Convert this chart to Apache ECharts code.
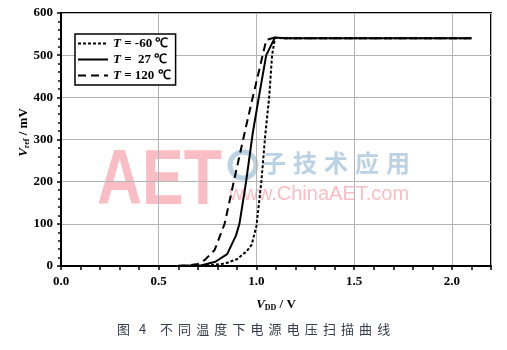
<!DOCTYPE html>
<html><head><meta charset="utf-8">
<script src="https://cdn.jsdelivr.net/npm/echarts@6/dist/echarts.min.js"></script>
<style>html,body{margin:0;padding:0;background:#fff}#c{width:507px;height:350px}</style>
</head><body><div id="c"></div>
<script>
// Temperature labels (legend)
const tempLabels = ['-60', ' 27', '120'];
// V_DD (V) and V_ref (mV) for each temperature
const vddM60 = [0, 0.6, 0.77, 0.84, 0.9, 0.95, 0.975, 1.0, 1.025, 1.045, 1.065, 1.08, 1.095, 1.15, 2.1];
const vrefM60 = [0, 0, 2, 6, 16, 35, 50, 95, 200, 310, 400, 500, 541, 540, 540];
const vdd27 = [0, 0.6, 0.72, 0.79, 0.85, 0.895, 0.913, 0.947, 0.981, 1.012, 1.05, 1.095, 1.15, 2.1];
const vref27 = [0, 0, 2, 10, 28, 72, 100, 200, 315, 400, 500, 542, 540, 540];
const vdd120 = [0, 0.55, 0.65, 0.7, 0.735, 0.786, 0.837, 0.884, 0.939, 0.981, 1.032, 1.05, 1.095, 1.15, 2.1];
const vref120 = [0, 0, 1, 5, 14, 38, 100, 200, 315, 400, 500, 536, 542, 540, 540];
// Axis tick labels
const xTickLabels = ['0.0', '0.5', '1.0', '1.5', '2.0'];
const yTickLabels = ['0', '100', '200', '300', '400', '500', '600'];
// Caption
const captionHead = ['图', '4'];
const captionBody = '不同温度下电源电压扫描曲线';

const pair = (xs, ys) => xs.map((x, i) => [x, ys[i]]);
const serif = 'Liberation Serif';
const lblStyle = {fontFamily: serif, fontWeight: 'bold', fontSize: 13, color: '#000'};
const nameRich = {
  i: {fontFamily: serif, fontStyle: 'italic', fontWeight: 'bold', fontSize: 13, color: '#000'},
  s: {fontFamily: serif, fontWeight: 'bold', fontSize: 8, color: '#000', padding: [7, 0, 0, 0]},
  n: {fontFamily: serif, fontWeight: 'bold', fontSize: 13, color: '#000'}
};

const chart = echarts.init(document.getElementById('c'), null, {renderer: 'canvas'});

const wmChars = ['子', '技', '术', '应', '用'];
const capFont = '13px "Noto Sans CJK SC"';
const capColor = '#363c4a';
const graphics = [
  {type: 'text', z: 0, left: 97, top: 143, style: {text: 'AET', font: 'bold 78px "Liberation Sans"', fill: '#f8b6bc', opacity: 0.9}, scaleX: 0.8},
  {type: 'circle', z: 0, shape: {cx: 243, cy: 165, r: 13}, style: {stroke: '#b4cde2', lineWidth: 5, fill: 'none', opacity: 0.9}},
  {type: 'text', z: 0, left: 229, top: 184, style: {text: 'www.ChinaAET.com', font: '20px "Liberation Sans"', fill: '#f8b6bc', opacity: 0.9}}
];
wmChars.forEach((ch, i) => graphics.push({type: 'text', z: 0, left: 262 + i * 31, top: 151, style: {text: ch, font: 'bold 24px "Noto Sans CJK SC"', fill: '#b4cde2', opacity: 0.9}}));
graphics.push({type: 'text', left: 117, top: 323, style: {text: captionHead[0], font: capFont, fill: capColor}});
graphics.push({type: 'text', left: 139, top: 323, style: {text: captionHead[1], font: capFont, fill: capColor}});
captionBody.split('').forEach((ch, i) => graphics.push({type: 'text', left: 160 + i * 18.1, top: 323, style: {text: ch, font: capFont, fill: capColor}}));

chart.setOption({
  animation: false,
  backgroundColor: '#fff',
  grid: {left: 61, right: 16, top: 13, bottom: 84, show: true, borderColor: '#000', borderWidth: 2, containLabel: false},
  graphic: graphics,
  legend: {
    orient: 'vertical', left: 75, top: 34,
    itemWidth: 30, itemHeight: 10, itemGap: 3,
    padding: [3, 5, 3, 2],
    borderColor: '#000', borderWidth: 1.5, backgroundColor: '#fff',
    itemStyle: {opacity: 0},
    formatter: name => '{i|T} = ' + name + ' ℃',
    textStyle: {fontFamily: serif, fontWeight: 'bold', fontSize: 13, color: '#000', rich: {i: nameRich.i}},
    data: tempLabels
  },
  xAxis: [{
    type: 'value', min: 0, max: 2.2, interval: 0.1,
    axisLine: {show: true, lineStyle: {color: '#000', width: 2}},
    axisTick: {show: true, length: 4, lineStyle: {color: '#000', width: 1.5}},
    axisLabel: Object.assign({margin: 9, formatter: v => {
      const k = Math.round(v * 10);
      return (k % 5 === 0 && k <= 20) ? xTickLabels[k / 5] : '';
    }}, lblStyle),
    splitLine: {show: false},
    name: '{i|V}{s|DD}{n| / V}', nameLocation: 'middle', nameGap: 31,
    nameTextStyle: {rich: nameRich}
  }, {
    type: 'value', min: 0, max: 2.2, interval: 0.5, position: 'bottom',
    axisLine: {show: false}, axisTick: {show: false}, axisLabel: {show: false},
    splitLine: {show: true, lineStyle: {color: '#b3b3b3', width: 1}}
  }],
  yAxis: {
    type: 'value', min: 0, max: 600, interval: 100,
    axisLine: {show: true, lineStyle: {color: '#000', width: 2}},
    axisTick: {show: true, length: 4, lineStyle: {color: '#000', width: 1.5}},
    minorTick: {show: true, splitNumber: 5, length: 3, lineStyle: {color: '#000', width: 1.5}},
    axisLabel: Object.assign({margin: 8, formatter: v => yTickLabels[Math.round(v / 100)]}, lblStyle),
    splitLine: {show: true, lineStyle: {color: '#b3b3b3', width: 1}},
    name: '{i|V}{s|ref}{n| / mV}', nameLocation: 'middle', nameGap: 30, nameRotate: 90,
    nameMoveOverlap: false,
    nameTextStyle: {rich: nameRich, padding: [0, 0, 0, 14]}
  },
  series: [
    {name: tempLabels[0], type: 'line', xAxisIndex: 0, data: pair(vddM60, vrefM60), symbol: 'none', z: 5,
     lineStyle: {color: '#000', width: 2, type: [3, 2]}, itemStyle: {color: '#000'}},
    {name: tempLabels[1], type: 'line', xAxisIndex: 0, data: pair(vdd27, vref27), symbol: 'none', z: 5,
     lineStyle: {color: '#000', width: 2, type: 'solid'}, itemStyle: {color: '#000'}},
    {name: tempLabels[2], type: 'line', xAxisIndex: 0, data: pair(vdd120, vref120), symbol: 'none', z: 5,
     lineStyle: {color: '#000', width: 2, type: [8, 5]}, itemStyle: {color: '#000'}}
  ]
});
</script></body></html>
